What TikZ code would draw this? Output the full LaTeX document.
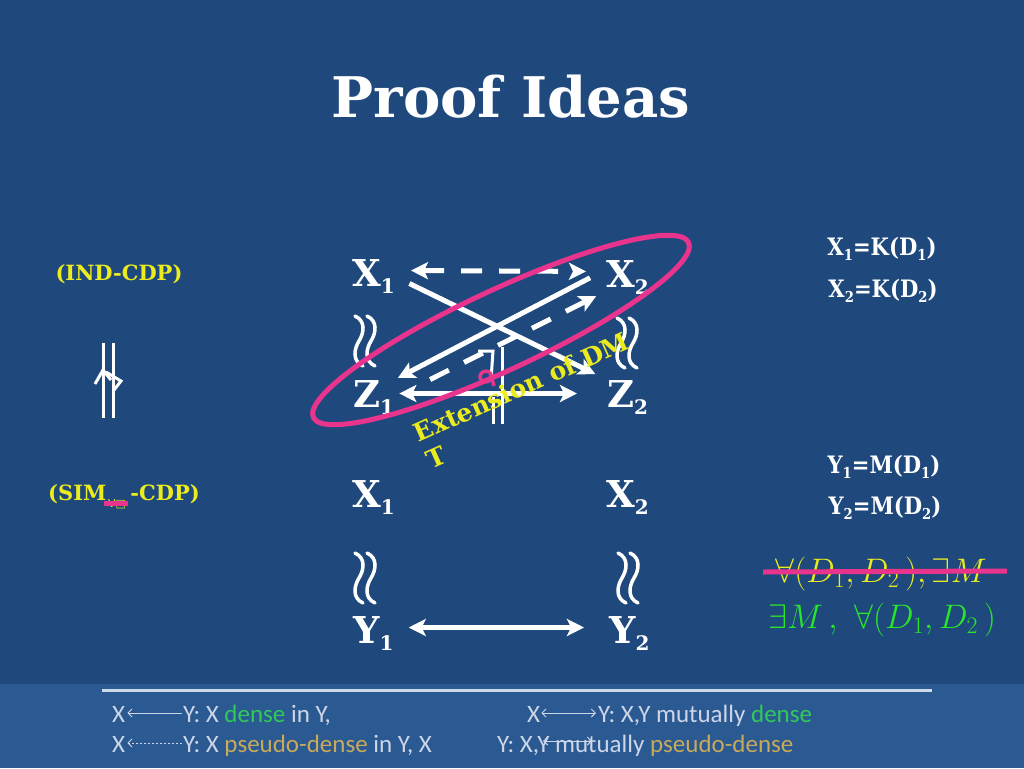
\documentclass[tikz,border=0pt]{standalone}
\usepackage{fix-cm}
\usepackage{fontspec}
\setmainfont{DejaVu Serif}
\newfontfamily\footfont{Carlito}
\newfontfamily\symfont{DejaVu Sans}
\newfontfamily\eqfont[FakeStretch=0.88]{DejaVu Serif}
\usetikzlibrary{arrows.meta}

\definecolor{slidebg}{RGB}{31,73,125}
\definecolor{footbg}{RGB}{43,89,146}
\definecolor{footline}{RGB}{205,218,235}
\definecolor{foottext}{RGB}{205,214,232}
\definecolor{densegreen}{RGB}{50,200,90}
\definecolor{pseudogold}{RGB}{200,170,90}
\definecolor{hiyellow}{RGB}{235,235,30}
\definecolor{hipink}{RGB}{232,52,140}
\definecolor{mathgreen}{RGB}{40,230,40}

\newcommand{\lowsub}[1]{\raisebox{-7pt}{\fontsize{20}{20}\selectfont #1}}
\newcommand{\eqsub}[1]{\raisebox{-5pt}{\fontsize{15}{15}\selectfont #1}}

\tikzset{
  var/.style={text=white, font=\bfseries\fontsize{37}{37}\selectfont, inner sep=0pt, text height=27pt, text depth=8pt, anchor=base west},
  eqn/.style={text=white, font=\eqfont\bfseries\fontsize{24}{24}\selectfont, inner sep=0pt, anchor=base},
  tag/.style={text=hiyellow, font=\bfseries\fontsize{21}{21}\selectfont, inner sep=0pt, anchor=base},
  foot/.style={text=foottext, font=\footfont\fontsize{25}{25}\selectfont, inner sep=0pt, text height=20pt, text depth=2pt, anchor=base west},
  link/.style={white, line width=5pt},
  dashes/.style={dash pattern=on 21pt off 17pt},
  scribble/.style={white, line width=3pt},
  strike/.style={hipink, line width=5pt},
  footarrow/.style={foottext, line width=0.9pt},
  wreath/.pic={
    \foreach \dx in {-6,6}
      \draw[white, line width=3.5pt, line cap=round] (\dx-4,-25) .. controls (\dx+7,-20) and (\dx+5,-8) .. (\dx,0) .. controls (\dx-5,8) and (\dx-7,20) .. (\dx+4,25);
  }
}

\begin{document}
\begin{tikzpicture}[x=1pt, y=-1pt, >={Stealth[length=17pt, width=17pt, inset=4pt]}]
  % Background
  \useasboundingbox (0,0) rectangle (1024,768);
  \fill[slidebg] (0,0) rectangle (1024,768);
  \fill[footbg] (0,684) rectangle (1024,768);
  \draw[footline, line width=3pt] (102,690) -- (932,690);
  % Title
  \node (title) [anchor=base, text=white, font=\bfseries\fontsize{56}{56}\selectfont] at (511,117) {Proof Ideas};
  % Nodes
  \node (X1) [var] at (352,286) {X\lowsub{1}};
  \node (X2) [var] at (606,287) {X\lowsub{2}};
  \node (Z1) [var] at (353,407) {Z\lowsub{1}};
  \node (Z2) [var] at (607,407) {Z\lowsub{2}};
  \node (X1b) [var] at (352,507) {X\lowsub{1}};
  \node (X2b) [var] at (606,507) {X\lowsub{2}};
  \node (Y1) [var] at (353,643) {Y\lowsub{1}};
  \node (Y2) [var] at (609,643) {Y\lowsub{2}};
  % Wreaths
  \pic at (365,341) {wreath};
  \pic at (627,343) {wreath};
  \pic at (365,578) {wreath};
  \pic at (628,578) {wreath};
  % Arrows
  \draw[link, dashes, <->, shorten <=16pt, shorten >=20pt] ([yshift=6pt]X1.east) -- ([yshift=6pt]X2.west);
  \draw[link, ->, shorten <=16pt, shorten >=13pt] (X1.east) -- (Z2.north west);
  \draw[link, ->, shorten <=18pt, shorten >=4pt] ([yshift=8pt]X2.west) -- (Z1.north east);
  \draw[link, dashes, ->, shorten <=40pt, shorten >=11pt] (Z1.east) -- ([yshift=4pt]X2.south west);
  \draw[link, <->, shorten <=5pt, shorten >=30pt] ([yshift=4pt]Z1.east) -- ([yshift=4pt]Z2.west);
  \draw[link, <->, shorten <=15pt, shorten >=25pt] ([yshift=6pt]Y1.east) -- ([yshift=6pt]Y2.west);
  % Middle marks
  \draw[scribble] (478,351) -- (493,351) -- (491,380);
  \draw[scribble] (493,397) -- (493,424);
  \draw[scribble] (502,347) -- (502,424);
  \draw[hipink, line width=3.5pt] (490,372) .. controls (480,368) and (476,380) .. (485,382) .. controls (490,383) and (492,376) .. (490,372) -- (494,386);
  % Ellipse
  \draw[hipink, line width=5pt, rotate around={25:(501,330)}] (501,330) ellipse [x radius=207, y radius=40];
  \node (ext) [rotate=24, anchor=base west, align=left, text=hiyellow, font=\bfseries\fontsize{25}{30}\selectfont, inner sep=0pt] at (431,470) {Extension of DM\\T};
  % Left labels
  \node (ind) [tag] at (119,280) {(IND-CDP)};
  \node (sim) [tag] at (124,500) {(SIM\hspace{24pt}-CDP)};
  \node (simsub) [anchor=base, text=hiyellow, inner sep=0pt, font=\symfont\fontsize{11}{11}\selectfont] at (117,507) {∀□};
  \draw[strike] ([xshift=-4pt]simsub.west) -- ([xshift=2pt]simsub.east);
  \draw[scribble] (103,343) -- (103,418);
  \draw[scribble] (113,343) -- (113,418);
  \draw[scribble] (95,384) -- (103,370) -- (111,380);
  \draw[scribble] (106,372) -- (121,381) -- (114,390);
  % Right equations
  \node (kx1) [eqn] at (882,255) {X\eqsub{1}=K(D\eqsub{1})};
  \node (kx2) [eqn] at (883,297) {X\eqsub{2}=K(D\eqsub{2})};
  \node (my1) [eqn] at (884,473) {Y\eqsub{1}=M(D\eqsub{1})};
  \node (my2) [eqn] at (885,514) {Y\eqsub{2}=M(D\eqsub{2})};
  \node (fa) [anchor=base, text=hiyellow, inner sep=0pt, font=\fontsize{34}{34}\selectfont] at (881,582) {$\forall(D_1, D_2\,), \exists M$};
  \draw[strike] ([shift={(-12pt,10pt)}]fa.base west) -- ([shift={(20pt,11pt)}]fa.base east);
  \node (ex) [anchor=base, text=mathgreen, inner sep=0pt, font=\fontsize{34}{34}\selectfont] at (882,628) {$\exists M\,,\ \forall(D_1, D_2\,)$};
  % Footer
  \node (fX1) [foot] at (112,722) {X};
  \node (fT1) [foot] at (183,722) {Y: X \textcolor{densegreen}{dense} in Y,};
  \node (fX3) [foot] at (527,722) {X};
  \node (fT3) [foot] at (598,722) {Y: X,Y mutually \textcolor{densegreen}{dense}};
  \node (fX2) [foot] at (112,752) {X};
  \node (fT2) [foot] at (183,752) {Y: X \textcolor{pseudogold}{pseudo-dense} in Y, X};
  \node (fT4) [foot] at (497,752) {Y: X,Y mutually \textcolor{pseudogold}{pseudo-dense}};
  \draw[footarrow, {Straight Barb[length=4pt,width=8pt]}-, shorten <=2pt, shorten >=1pt] (fX1.east) -- (fT1.west);
  \draw[footarrow, {Straight Barb[length=4pt,width=8pt]}-{Straight Barb[length=4pt,width=8pt]}, shorten <=1pt, shorten >=2pt] (fX3.east) -- (fT3.west);
  \draw[footarrow, dash pattern=on 2pt off 2pt, {Straight Barb[length=4pt,width=8pt]}-, shorten <=2pt, shorten >=1pt] (fX2.east) -- (fT2.west);
  \draw[footarrow, {Straight Barb[length=4pt,width=8pt]}-{Straight Barb[length=4pt,width=8pt]}] ([xshift=46pt,yshift=2pt]fT4.west) -- ([xshift=95pt,yshift=2pt]fT4.west);
\end{tikzpicture}
\end{document}
